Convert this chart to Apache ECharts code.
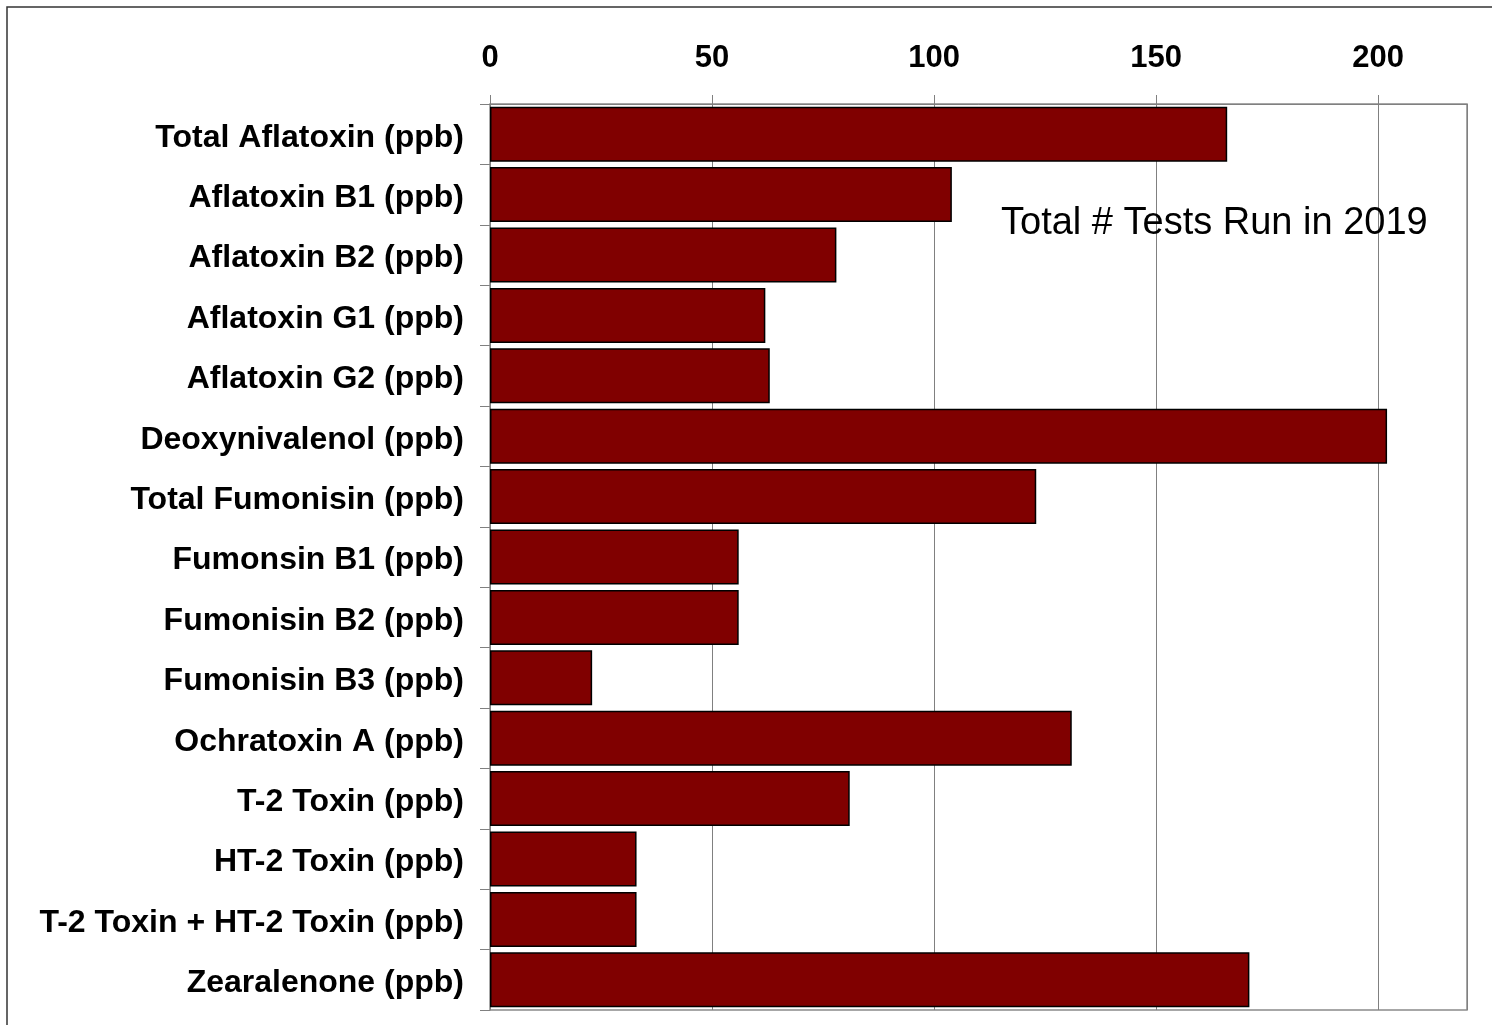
<!DOCTYPE html>
<html>
<head>
<meta charset="utf-8">
<script src="https://cdn.jsdelivr.net/npm/echarts@6/dist/echarts.min.js"></script>
<style>
html,body{margin:0;padding:0;background:#fff;}
#chart{width:1492px;height:1025px;}
</style>
</head>
<body>
<div id="chart"></div>
<script>
const categories = [
  'Total Aflatoxin (ppb)',
  'Aflatoxin B1 (ppb)',
  'Aflatoxin B2 (ppb)',
  'Aflatoxin G1 (ppb)',
  'Aflatoxin G2 (ppb)',
  'Deoxynivalenol (ppb)',
  'Total Fumonisin (ppb)',
  'Fumonsin B1 (ppb)',
  'Fumonisin B2 (ppb)',
  'Fumonisin B3 (ppb)',
  'Ochratoxin A (ppb)',
  'T-2 Toxin (ppb)',
  'HT-2 Toxin (ppb)',
  'T-2 Toxin + HT-2 Toxin (ppb)',
  'Zearalenone (ppb)'
];
const testsRun = [166, 104, 78, 62, 63, 202, 123, 56, 56, 23, 131, 81, 33, 33, 171];
const annotationText = 'Total # Tests Run in 2019';

const FONT = '"Liberation Sans", Arial, sans-serif';
const chart = echarts.init(document.getElementById('chart'), null, {renderer: 'canvas'});
chart.setOption({
  animation: false,
  backgroundColor: '#fff',
  grid: {
    left: 490, right: 25, top: 104, bottom: 15,
    show: true, borderColor: '#8a8a8a', borderWidth: 1.5, backgroundColor: 'transparent'
  },
  xAxis: {
    type: 'value',
    position: 'top',
    min: 0, max: 220, interval: 50,
    axisLine: {show: true, lineStyle: {color: '#808080', width: 1}},
    axisTick: {show: true, length: 9, lineStyle: {color: '#808080'}},
    splitLine: {show: true, lineStyle: {color: '#808080', width: 1}},
    axisLabel: {
      showMaxLabel: false,
      fontFamily: FONT, fontSize: 31, fontWeight: 'bold', color: '#000', margin: 30
    }
  },
  yAxis: {
    type: 'category',
    data: categories,
    inverse: true,
    axisLine: {show: true, lineStyle: {color: '#808080', width: 1}},
    axisTick: {show: true, length: 10, lineStyle: {color: '#808080'}},
    axisLabel: {
      margin: 26,
      formatter: function (v) { return '{c|' + v + '}'; },
      rich: {
        c: {fontFamily: FONT, fontSize: 32, fontWeight: 'bold', color: '#000', padding: [7, 0, 0, 0]}
      }
    }
  },
  series: [{
    type: 'bar',
    data: testsRun,
    barCategoryGap: '9%',
    itemStyle: {color: '#800000', borderColor: '#000', borderWidth: 1.5}
  }],
  graphic: [
    {
      type: 'rect', silent: true, z: 100,
      shape: {x: 7, y: 7, width: 1600, height: 1200},
      style: {fill: 'none', stroke: '#333', lineWidth: 1.5}
    },
    {
      type: 'text', z: 100, left: 1001, top: 205,
      style: {text: annotationText, font: '38px "Liberation Sans", Arial, sans-serif', fill: '#000'}
    }
  ]
});
</script>
</body>
</html>
